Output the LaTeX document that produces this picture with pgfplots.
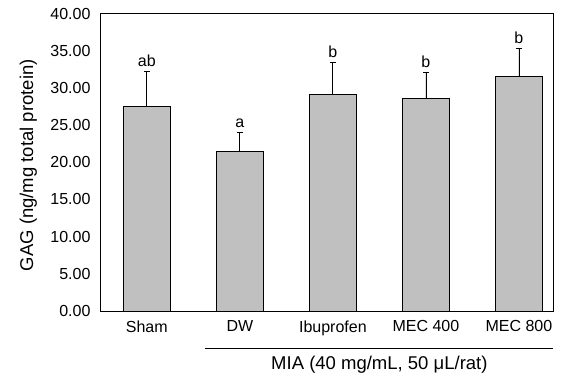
\documentclass[border=0pt]{standalone}
\usepackage{fontspec}
\setmainfont{Liberation Sans}
\usepackage{pgfplots}
\pgfplotsset{compat=1.18}
\definecolor{barg}{HTML}{C0C0C0}
\begin{document}
\begin{tikzpicture}
\begin{axis}[
  name=ax,
  scale only axis, width=453pt, height=297.5pt,
  xmin=-0.503, xmax=4.366, ymin=0, ymax=40,
  axis line style={line width=0.8pt, black},
  xtick={0,1,2,3,4},
  xticklabels={Sham,DW,Ibuprofen,MEC 400,MEC 800},
  ytick={0,5,...,40},
  major tick length=0pt,
  /pgf/number format/assume math mode=true,
  yticklabel style={/pgf/number format/fixed, /pgf/number format/fixed zerofill, /pgf/number format/precision=2, xshift=-6pt},
  ticklabel style={font=\fontsize{16}{19}\selectfont},
  xticklabel style={yshift=-6pt},
  ylabel={GAG (ng/mg total protein)},
  ylabel style={font=\fontsize{18.5}{21}\selectfont, at={(axis description cs:-0.158,0.49)}, anchor=center},
  clip=false,
]
\addplot[ybar, bar width=0.5, bar shift=0pt, fill=barg, draw=black, line width=0.8pt,
  error bars/.cd, y dir=plus, y explicit,
  error bar style={line width=0.8pt, black},
  error mark options={rotate=90, mark size=3pt, line width=0.8pt, black}]
  table[x=x, y=y, y error=e] {
x y e
0 27.46 4.80
1 21.50 2.50
2 29.10 4.37
3 28.60 3.50
4 31.55 3.75
};
\addplot[draw=none, mark=none, nodes near coords, point meta=explicit symbolic,
  every node near coord/.append style={anchor=south, font=\fontsize{16}{19}\selectfont, yshift=1pt}]
  table[x=x, y=y, meta=lab] {
x y lab
0 32.26 ab
1 24.00 a
2 33.47 b
3 32.10 b
4 35.30 b
};
\draw[line width=0.8pt] ([yshift=-37pt]axis cs:0.626,0) -- ([yshift=-37pt]axis cs:4.366,0);
\node[font=\fontsize{18.5}{21}\selectfont] at ([yshift=-54pt]axis cs:2.5,0) {MIA (40 mg/mL, 50 μL/rat)};
\end{axis}
\pgfresetboundingbox
\path ([shift={(-100pt,-65pt)}]ax.south west) rectangle ++(566pt,376pt);
\end{tikzpicture}
\end{document}
